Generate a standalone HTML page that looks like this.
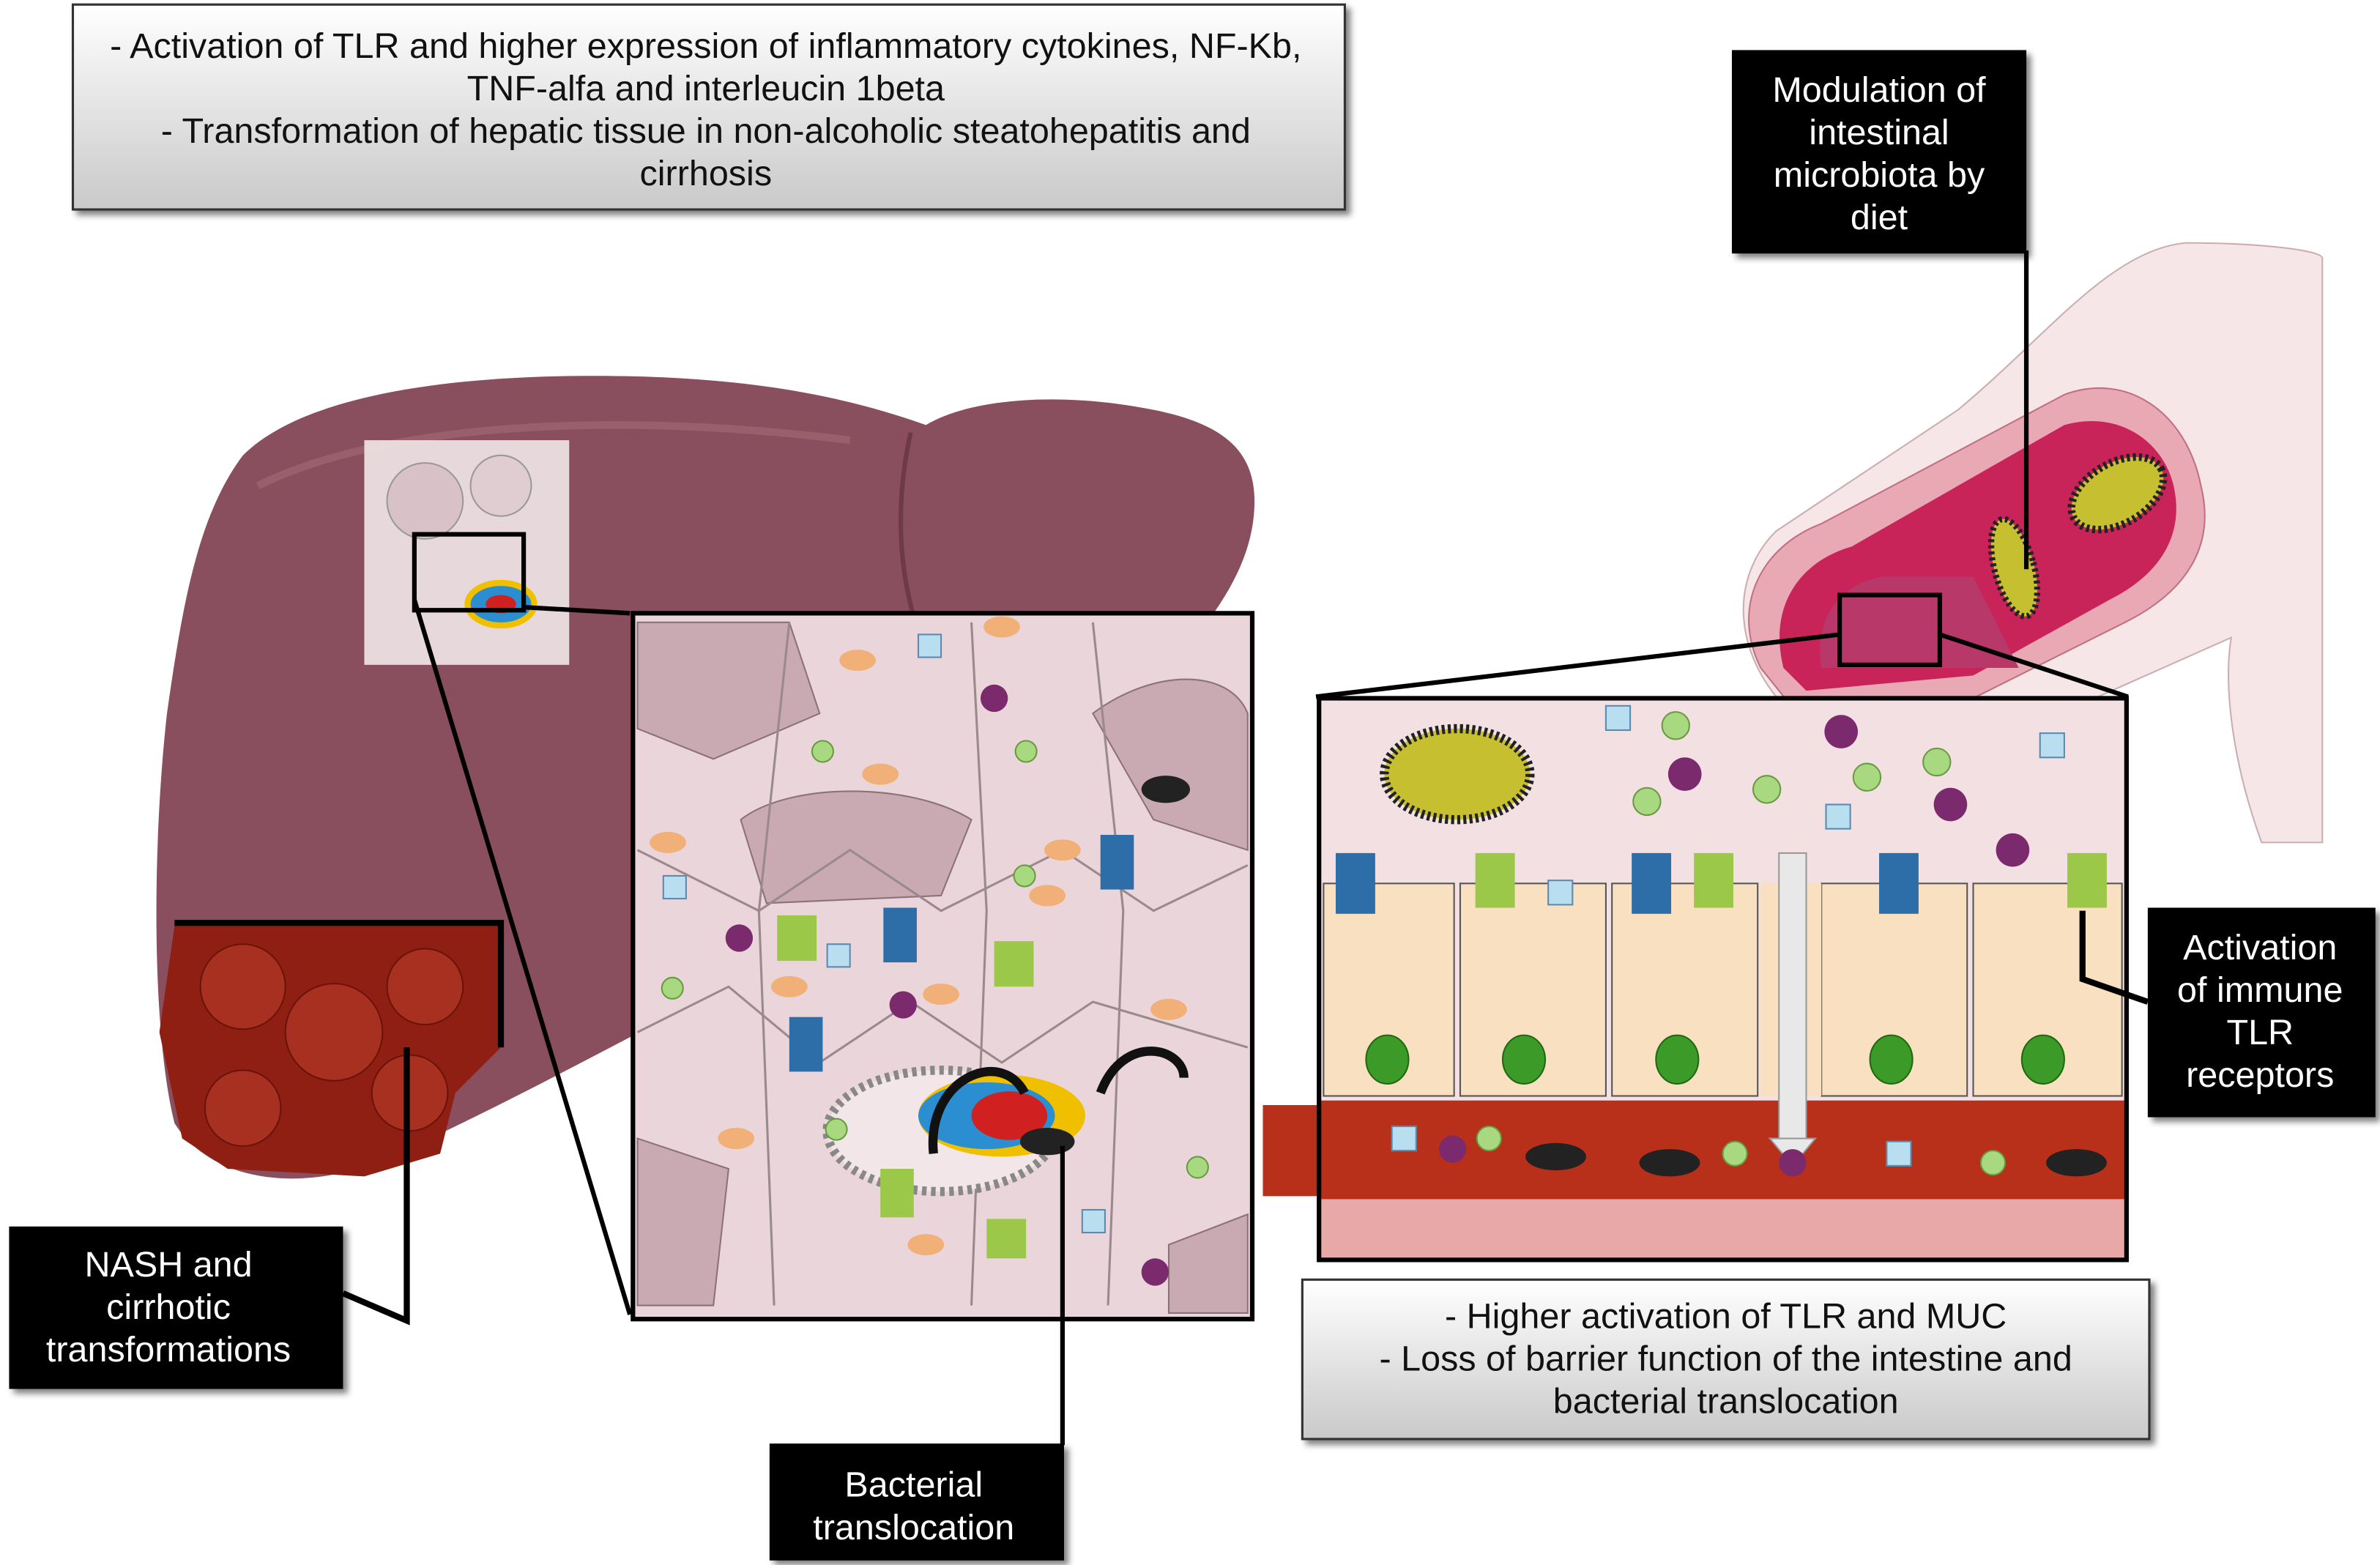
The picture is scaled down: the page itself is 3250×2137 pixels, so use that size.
<!DOCTYPE html>
<html><head><meta charset="utf-8"><style>html,body{margin:0;padding:0;background:#fff}svg{display:block}</style></head>
<body>
<svg width="3250" height="2137" viewBox="0 0 1568 1031" preserveAspectRatio="none" xmlns="http://www.w3.org/2000/svg" font-family="Liberation Sans, sans-serif">
<defs>
<linearGradient id="gb" x1="0" y1="0" x2="0" y2="1"><stop offset="0" stop-color="#ffffff"/><stop offset="1" stop-color="#c9c9c9"/></linearGradient>
<filter id="sh"><feDropShadow dx="3" dy="3" stdDeviation="2" flood-opacity="0.5"/></filter>
</defs>
<rect width="1568" height="1031" fill="#fff"/>
<!-- intestine -->
<path d="M1440 160 C1490 160 1530 165 1530 170 L1530 555 L1490 555 C1470 500 1465 450 1470 420 L1380 460 L1300 470 L1180 470 C1140 430 1140 380 1170 350 L1290 270 C1350 220 1390 165 1440 160 Z" fill="#f6e6e8" stroke="#c9aeb2"/>
<path d="M1160 440 C1140 400 1160 360 1200 345 L1360 260 C1400 245 1440 270 1450 320 C1460 360 1440 390 1400 410 L1300 460 L1180 465 Z" fill="#e8a8b4" stroke="#c07080"/>
<path d="M1175 440 C1165 400 1185 370 1220 360 L1360 280 C1395 270 1425 290 1432 320 C1440 355 1420 380 1390 395 L1300 445 L1190 455 Z" fill="#c8245a"/>
<path d="M1200 440 C1195 410 1210 385 1240 380 L1300 380 L1330 440 Z" fill="#b8386a"/>
<ellipse cx="1395" cy="325" rx="33" ry="20" transform="rotate(-30 1395 325)" fill="#c6c030" stroke="#222" stroke-width="5" stroke-dasharray="2 2"/>
<ellipse cx="1327" cy="374" rx="13" ry="33" transform="rotate(-15 1327 374)" fill="#c6c030" stroke="#222" stroke-width="4" stroke-dasharray="2 2"/>
<rect x="1212" y="392" width="66" height="46" fill="none" stroke="#000" stroke-width="3"/>
<line x1="1335" y1="165" x2="1335" y2="375" stroke="#000" stroke-width="3"/>
<line x1="1212" y1="418" x2="867" y2="459" stroke="#000" stroke-width="3"/>
<line x1="1278" y1="418" x2="1402" y2="459" stroke="#000" stroke-width="3"/>
<!-- liver -->
<path d="M160 300 C200 260 300 245 420 248 C500 250 560 262 610 280 C640 262 700 258 760 270 C810 280 830 300 826 340 C820 400 760 450 700 510 C640 565 560 610 480 650 C400 690 330 730 250 765 C200 785 140 780 115 740 C100 680 100 560 110 470 C120 400 130 340 160 300 Z" fill="#8a4f5e"/>
<path d="M600 285 C590 330 590 380 610 430" stroke="#6f3a48" stroke-width="3" fill="none"/>
<path d="M170 320 C250 280 400 270 560 290" stroke="#a46b78" stroke-width="5" fill="none" opacity="0.6"/>
<!-- cirrhotic -->
<path d="M115 610 L330 610 L330 690 L300 720 L290 760 L240 775 L150 770 L120 750 L105 680 Z" fill="#8f1f12"/>
<circle cx="160" cy="650" r="28" fill="#a83020" stroke="#6a130b"/><circle cx="220" cy="680" r="32" fill="#a83020" stroke="#6a130b"/><circle cx="280" cy="650" r="25" fill="#a83020" stroke="#6a130b"/><circle cx="160" cy="730" r="25" fill="#a83020" stroke="#6a130b"/><circle cx="270" cy="720" r="25" fill="#a83020" stroke="#6a130b"/>
<polyline points="115,608 330,608 330,690" fill="none" stroke="#000" stroke-width="4"/>
<polyline points="268,690 268,870 226,852" fill="none" stroke="#000" stroke-width="4"/>
<!-- liver small inset -->
<rect x="240" y="290" width="135" height="148" fill="#ece0e2" opacity="0.95"/>
<circle cx="280" cy="330" r="25" fill="#d8c2c8" stroke="#999"/><circle cx="330" cy="320" r="20" fill="#e0cdd1" stroke="#999"/>
<ellipse cx="330" cy="398" rx="22" ry="14" fill="#2b8ed0" stroke="#f0c000" stroke-width="4"/><ellipse cx="330" cy="398" rx="10" ry="6" fill="#d02020"/>
<rect x="273" y="352" width="72" height="50" fill="none" stroke="#000" stroke-width="3"/>
<line x1="273" y1="395" x2="415" y2="866" stroke="#000" stroke-width="3"/>
<line x1="345" y1="400" x2="415" y2="404" stroke="#000" stroke-width="3"/>
<!-- liver big inset -->
<rect x="417" y="404" width="408" height="465" fill="#ead6da"/>
<g fill="#c9aab2" stroke="#8a7278">
<path d="M420 410 L520 410 L540 470 L470 500 L420 480 Z"/>
<path d="M488 540 C520 515 600 515 640 540 L620 590 L505 595 Z"/>
<path d="M720 470 C760 440 810 440 822 470 L822 560 L760 540 Z"/>
<path d="M420 750 L480 770 L470 860 L420 860 Z"/>
<path d="M770 820 L822 800 L822 865 L770 865 Z"/>
</g>
<g fill="none" stroke="#9a8a8e" stroke-width="1.5">
<path d="M420 560 L500 600 L560 560 L620 600 L700 560 L760 600 L822 570"/>
<path d="M420 680 L480 650 L540 700 L600 660 L660 700 L720 660 L822 690"/>
<path d="M520 410 L500 600 L510 860"/><path d="M640 410 L650 600 L640 860"/><path d="M720 410 L740 600 L730 860"/>
</g>
<g fill="#f0b078"><ellipse cx="565" cy="435" rx="12" ry="7"/><ellipse cx="660" cy="413" rx="12" ry="7"/><ellipse cx="580" cy="510" rx="12" ry="7"/><ellipse cx="700" cy="560" rx="12" ry="7"/><ellipse cx="440" cy="555" rx="12" ry="7"/><ellipse cx="690" cy="590" rx="12" ry="7"/><ellipse cx="770" cy="665" rx="12" ry="7"/><ellipse cx="485" cy="750" rx="12" ry="7"/><ellipse cx="610" cy="820" rx="12" ry="7"/><ellipse cx="520" cy="650" rx="12" ry="7"/><ellipse cx="620" cy="655" rx="12" ry="7"/></g>
<ellipse cx="620" cy="745" rx="75" ry="40" fill="#f3e6e8" stroke="#888" stroke-width="6" stroke-dasharray="3 3"/>
<ellipse cx="660" cy="735" rx="55" ry="27" fill="#f0c000"/><ellipse cx="650" cy="735" rx="45" ry="22" fill="#2b8ed0"/><ellipse cx="665" cy="735" rx="25" ry="16" fill="#d02020"/>
<ellipse cx="690" cy="752" rx="18" ry="9" fill="#222"/><ellipse cx="768" cy="520" rx="16" ry="9" fill="#222"/>
<path d="M615 760 C610 710 660 690 675 720" stroke="#111" stroke-width="6" fill="none"/>
<path d="M725 720 C740 680 780 690 780 710" stroke="#111" stroke-width="6" fill="none"/>
<g fill="#2e6ea8"><rect x="582" y="598" width="22" height="36"/><rect x="725" y="550" width="22" height="36"/><rect x="520" y="670" width="22" height="36"/></g>
<g fill="#9cc84a"><rect x="512" y="603" width="26" height="30"/><rect x="655" y="620" width="26" height="30"/><rect x="580" y="770" width="22" height="32"/><rect x="650" y="803" width="26" height="26"/></g>
<g fill="#7b2a6e"><circle cx="655" cy="460" r="9"/><circle cx="487" cy="618" r="9"/><circle cx="595" cy="662" r="9"/><circle cx="761" cy="838" r="9"/></g>
<g fill="#b8def0" stroke="#5a8ab0"><rect x="605" y="418" width="15" height="15"/><rect x="437" y="577" width="15" height="15"/><rect x="545" y="622" width="15" height="15"/><rect x="713" y="797" width="15" height="15"/></g>
<g fill="#a8d880" stroke="#6a9a40"><circle cx="542" cy="495" r="7"/><circle cx="676" cy="495" r="7"/><circle cx="675" cy="577" r="7"/><circle cx="443" cy="651" r="7"/><circle cx="551" cy="744" r="7"/><circle cx="789" cy="769" r="7"/></g>
<rect x="417" y="404" width="408" height="465" fill="none" stroke="#000" stroke-width="3"/>
<line x1="700" y1="755" x2="700" y2="952" stroke="#000" stroke-width="3"/>
<!-- intestinal inset -->
<rect x="832" y="728" width="40" height="60" fill="#b8301a"/>
<rect x="869" y="460" width="532" height="370" fill="#f3e0e2"/>
<rect x="869" y="725" width="532" height="65" fill="#b8301a"/>
<rect x="869" y="790" width="532" height="40" fill="#e8a8a8"/>
<g fill="#f8e0c0" stroke="#555">
<rect x="872" y="582" width="86" height="140"/><rect x="962" y="582" width="96" height="140"/><rect x="1062" y="582" width="96" height="140"/><rect x="1200" y="582" width="96" height="140"/><rect x="1300" y="582" width="98" height="140"/>
</g>
<rect x="1160" y="582" width="40" height="140" fill="#f8e0c0"/>
<g fill="#3c9a28" stroke="#1e6a10"><ellipse cx="914" cy="698" rx="14" ry="16"/><ellipse cx="1004" cy="698" rx="14" ry="16"/><ellipse cx="1105" cy="698" rx="14" ry="16"/><ellipse cx="1246" cy="698" rx="14" ry="16"/><ellipse cx="1346" cy="698" rx="14" ry="16"/></g>
<ellipse cx="960" cy="510" rx="48" ry="30" fill="#c6c030" stroke="#222" stroke-width="6" stroke-dasharray="2 2"/>
<rect x="1172" y="562" width="18" height="190" fill="#e8e8e8" stroke="#999"/>
<polygon points="1166,750 1196,750 1181,768" fill="#e8e8e8" stroke="#999"/>
<g fill="#2e6ea8"><rect x="880" y="562" width="26" height="40"/><rect x="1075" y="562" width="26" height="40"/><rect x="1238" y="562" width="26" height="40"/></g>
<g fill="#9cc84a"><rect x="972" y="562" width="26" height="36"/><rect x="1116" y="562" width="26" height="36"/><rect x="1362" y="562" width="26" height="36"/></g>
<g fill="#7b2a6e"><circle cx="1213" cy="482" r="11"/><circle cx="1110" cy="510" r="11"/><circle cx="1285" cy="530" r="11"/><circle cx="1326" cy="560" r="11"/><circle cx="957" cy="757" r="9"/><circle cx="1181" cy="766" r="9"/></g>
<g fill="#b8def0" stroke="#5a8ab0"><rect x="1058" y="465" width="16" height="16"/><rect x="1344" y="483" width="16" height="16"/><rect x="1203" y="530" width="16" height="16"/><rect x="1020" y="580" width="16" height="16"/><rect x="917" y="742" width="16" height="16"/><rect x="1243" y="752" width="16" height="16"/></g>
<g fill="#a8d880" stroke="#6a9a40"><circle cx="1104" cy="478" r="9"/><circle cx="1230" cy="512" r="9"/><circle cx="1276" cy="502" r="9"/><circle cx="1085" cy="528" r="9"/><circle cx="1164" cy="520" r="9"/><circle cx="981" cy="750" r="8"/><circle cx="1143" cy="760" r="8"/><circle cx="1313" cy="766" r="8"/></g>
<g fill="#222"><ellipse cx="1025" cy="762" rx="20" ry="9"/><ellipse cx="1100" cy="766" rx="20" ry="9"/><ellipse cx="1368" cy="766" rx="20" ry="9"/></g>
<rect x="869" y="460" width="532" height="370" fill="none" stroke="#000" stroke-width="3"/>
<polyline points="1372,600 1372,645 1415,660" fill="none" stroke="#000" stroke-width="4"/>
<!-- boxes -->
<rect x="48" y="3" width="838" height="135" fill="url(#gb)" stroke="#333" stroke-width="1.5" filter="url(#sh)"/>
<g font-size="23.4" fill="#111" text-anchor="middle">
<text x="465" y="38">- Activation of TLR and higher expression of inflammatory cytokines, NF-Kb,</text>
<text x="465" y="66">TNF-alfa and interleucin 1beta</text>
<text x="465" y="94">- Transformation of hepatic tissue in non-alcoholic steatohepatitis and</text>
<text x="465" y="122">cirrhosis</text>
</g>
<rect x="858" y="843" width="558" height="105" fill="url(#gb)" stroke="#333" stroke-width="1.5" filter="url(#sh)"/>
<g font-size="23.4" fill="#111" text-anchor="middle">
<text x="1137" y="875">- Higher activation of TLR and MUC</text>
<text x="1137" y="903">- Loss of barrier function of the intestine and</text>
<text x="1137" y="931">bacterial translocation</text>
</g>
<g fill="#000" filter="url(#sh)">
<rect x="1141" y="33" width="194" height="134"/>
<rect x="6" y="808" width="220" height="107"/>
<rect x="507" y="951" width="194" height="77"/>
<rect x="1415" y="598" width="150" height="138"/>
</g>
<g font-size="23.4" fill="#fff" text-anchor="middle">
<text x="1238" y="67">Modulation of</text><text x="1238" y="95">intestinal</text><text x="1238" y="123">microbiota by</text><text x="1238" y="151">diet</text>
<text x="111" y="841">NASH and</text><text x="111" y="869">cirrhotic</text><text x="111" y="897">transformations</text>
<text x="602" y="986">Bacterial</text><text x="602" y="1014">translocation</text>
<text x="1489" y="632">Activation</text><text x="1489" y="660">of immune</text><text x="1489" y="688">TLR</text><text x="1489" y="716">receptors</text>
</g>
</svg>
</body></html>
